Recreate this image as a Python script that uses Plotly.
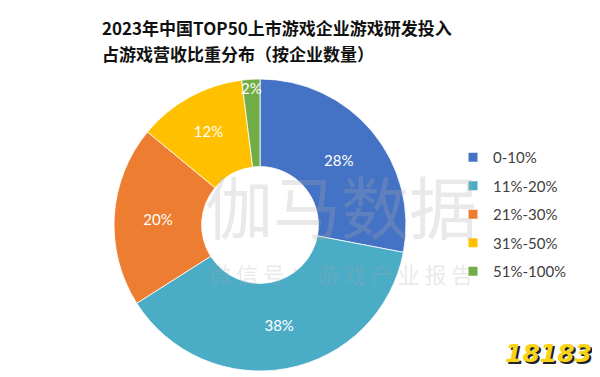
import plotly.graph_objects as go

# Data
categories = ["0-10%", "11%-20%", "21%-30%", "31%-50%", "51%-100%"]
company_counts = [14, 19, 10, 6, 1]   # of 50 companies -> 28%, 38%, 20%, 12%, 2%
colors = ["#4472C4", "#4BACC6", "#ED7D31", "#FFC000", "#70AD47"]

title_lines = ["2023年中国TOP50上市游戏企业游戏研发投入", "占游戏营收比重分布（按企业数量）"]

W, H = 600, 377
cx, cy, R = 252, 217, 146

fig = go.Figure()
fig.add_trace(go.Pie(
    labels=categories,
    values=company_counts,
    sort=False,
    direction="clockwise",
    rotation=0,
    hole=0.40,
    marker=dict(colors=colors, line=dict(color="white", width=0.8)),
    texttemplate="%{percent:.0%}",
    textposition="inside",
    insidetextorientation="horizontal",
    textfont=dict(family="Lato, Open Sans, sans-serif", size=15, color="white"),
    showlegend=False,
    hoverinfo="label+percent",
    domain=dict(x=[(cx - R) / W, (cx + R) / W], y=[(H - cy - R) / H, (H - cy + R) / H]),
))

# Legend entries (one group per category, for spacing)
for name, c in zip(categories, colors):
    fig.add_trace(go.Scatter(
        x=[None], y=[None], mode="markers", name=name, legendgroup=name,
        marker=dict(symbol="square", size=9, color=c),
    ))

title_font = dict(family="Noto Sans CJK SC", size=17, color="#111111")
wm = "rgba(170,170,170,0.26)"
annotations = [
    dict(text="<b>" + title_lines[0] + "</b>",
         x=92 / W, y=1 - 19 / H, xref="paper", yref="paper", xanchor="left", yanchor="middle",
         align="left", showarrow=False, font=title_font),
    dict(text="<b>" + title_lines[1] + "</b>",
         x=92 / W, y=1 - 45 / H, xref="paper", yref="paper", xanchor="left", yanchor="middle",
         align="left", showarrow=False, font=title_font),
    dict(text="伽马数据", x=333 / W, y=1 - 196 / H, xref="paper", yref="paper",
         xanchor="center", yanchor="middle", showarrow=False,
         font=dict(family="Noto Sans CJK SC", size=68, color=wm)),
    dict(text="微 信 号 ： 游 戏 产 业 报 告", x=333 / W, y=1 - 265 / H, xref="paper", yref="paper",
         xanchor="center", yanchor="middle", showarrow=False,
         font=dict(family="Noto Sans CJK SC", size=22, color=wm)),
    dict(text="<b><i>18183</i></b>", x=586 / W, y=1 - 345 / H, xref="paper", yref="paper",
         xanchor="right", yanchor="middle", showarrow=False,
         font=dict(family="DejaVu Sans", size=25, color="#F7D417", shadow="2px 2px 0px #222")),
]

fig.update_layout(
    width=W, height=H,
    margin=dict(l=0, r=0, t=0, b=0),
    paper_bgcolor="white", plot_bgcolor="white",
    xaxis=dict(visible=False), yaxis=dict(visible=False),
    uniformtext=dict(minsize=15, mode="show"),
    legend=dict(x=445 / W, y=1 - 133 / H, xanchor="left", yanchor="top",
                tracegroupgap=6, itemwidth=30,
                font=dict(family="Lato, Open Sans, sans-serif", size=15, color="#404040"),
                bgcolor="rgba(0,0,0,0)"),
    annotations=annotations,
)

fig.write_html("out.html")
